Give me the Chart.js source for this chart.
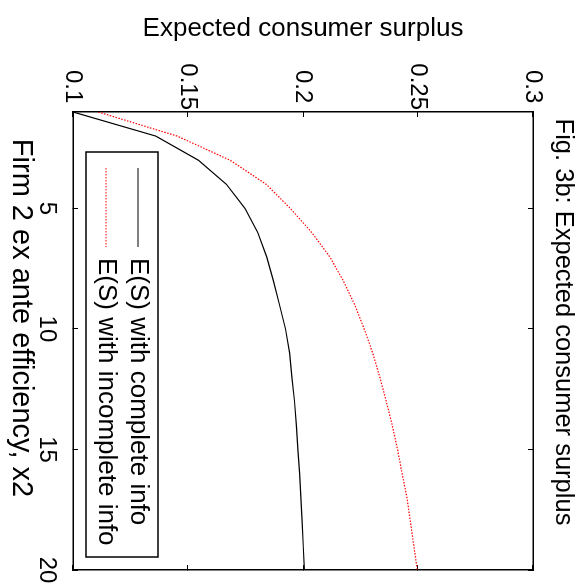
<!DOCTYPE html>
<html>
<head>
<meta charset="utf-8">
<script src="https://cdn.jsdelivr.net/npm/chart.js@4.4.0/dist/chart.umd.min.js"></script>
<style>
  html, body { margin: 0; padding: 0; background: #fff; overflow: hidden; }
  /* the figure is laid out upright, then turned a quarter clockwise onto the page */
  #wrap {
    position: absolute; left: 0; top: 0;
    width: 585px; height: 582px;
    transform-origin: 0 0;
    transform: translate(582px, 0) rotate(90deg);
  }
  canvas { display: block; }
</style>
</head>
<body>
<div id="wrap"><canvas id="surplus-chart" width="585" height="582"></canvas></div>
<script>
// firm 2 ex ante efficiency
const efficiency = [1, 2, 3, 4, 5, 6, 7, 8, 9, 10, 11, 12, 13, 14, 15, 16, 17, 18, 19, 20];
// expected consumer surplus, complete information
const surplusComplete = [0.100, 0.136, 0.1545, 0.1667, 0.1748, 0.1803, 0.1842, 0.1871, 0.1898, 0.1924,
                         0.1942, 0.1952, 0.1963, 0.1971, 0.1978, 0.1985, 0.1991, 0.1996, 0.2001, 0.2006];
// expected consumer surplus, incomplete information
const surplusIncomplete = [0.111, 0.1453, 0.1683, 0.184, 0.1945, 0.2038, 0.2116, 0.2175, 0.2225, 0.2266,
                           0.2303, 0.2334, 0.2362, 0.2388, 0.2411, 0.2431, 0.2452, 0.2467, 0.2482, 0.2497];

const xTickValues = [5, 10, 15, 20];
const yTickValues = [0.1, 0.15, 0.2, 0.25, 0.3];
const yTickLabels = ['0.1', '0.15', '0.2', '0.25', '0.3'];

const figTitle = 'Fig. 3b: Expected consumer surplus';
const xTitle = 'Firm 2 ex ante efficiency, x2';
const yTitle = 'Expected consumer surplus';

const FONT = "'Liberation Sans', Arial, Helvetica, sans-serif";

Chart.defaults.font.family = FONT;
Chart.defaults.font.size = 24;
Chart.defaults.color = '#000';

function setTicks(values) {
    return scale => { scale.ticks = values.map(v => ({ value: v })); };
}

// inward tick marks, matlab style
const innerGrid = { drawOnChartArea: false, drawTicks: true, tickLength: -5, color: '#000', lineWidth: 1 };
const boxBorder = { display: true, color: '#000', width: 1.5 };

// figure title and x label, centred a bit above the middle of the axes
const figureLabels = {
    id: 'figureLabels',
    afterDraw(chart) {
        const ctx = chart.ctx;
        ctx.save();
        ctx.fillStyle = '#000';
        ctx.textAlign = 'center';
        ctx.textBaseline = 'middle';
        ctx.font = '25.5px ' + FONT;
        ctx.fillText(figTitle, 322, 19);
        ctx.font = '29px ' + FONT;
        ctx.fillText(xTitle, 318, 561);
        ctx.restore();
    }
};

// legend with a frame, sitting in the lower right corner of the axes
const framedLegend = {
    id: 'framedLegend',
    afterDatasetsDraw(chart) {
        const ctx = chart.ctx;
        const box = { left: 152, top: 424, width: 405, height: 72 };
        ctx.save();
        ctx.fillStyle = '#fff';
        ctx.fillRect(box.left, box.top, box.width, box.height);
        ctx.strokeStyle = '#000';
        ctx.lineWidth = 1.5;
        ctx.strokeRect(box.left, box.top, box.width, box.height);
        chart.data.datasets.forEach((ds, i) => {
            const y = 444 + i * 32;
            ctx.beginPath();
            ctx.strokeStyle = ds.borderColor;
            ctx.lineWidth = ds.borderWidth;
            ctx.setLineDash(ds.borderDash || []);
            ctx.moveTo(168, y);
            ctx.lineTo(247, y);
            ctx.stroke();
            ctx.setLineDash([]);
            ctx.fillStyle = '#000';
            ctx.font = '26px ' + FONT;
            ctx.textBaseline = 'middle';
            ctx.textAlign = 'left';
            ctx.fillText(ds.label, 258, y);
        });
        ctx.restore();
    }
};

new Chart(document.getElementById('surplus-chart').getContext('2d'), {
    type: 'line',
    data: {
        labels: efficiency,
        datasets: [{
            label: 'E(S) with complete info',
            data: efficiency.map((x, i) => ({ x: x, y: surplusComplete[i] })),
            borderColor: '#000',
            borderWidth: 1.2,
            pointRadius: 0,
            tension: 0
        }, {
            label: 'E(S) with incomplete info',
            data: efficiency.map((x, i) => ({ x: x, y: surplusIncomplete[i] })),
            borderColor: '#ff0000',
            borderWidth: 1.2,
            borderDash: [1.5, 1.5],
            pointRadius: 0,
            tension: 0
        }]
    },
    options: {
        responsive: false,
        devicePixelRatio: 1,
        animation: false,
        layout: { padding: { top: 49, right: 15, bottom: 0, left: 0 } },
        plugins: {
            legend: { display: false },
            tooltip: { enabled: false },
            title: { display: false }
        },
        scales: {
            x: {
                type: 'linear', position: 'bottom', min: 1, max: 20,
                afterBuildTicks: setTicks(xTickValues),
                ticks: { padding: 17, maxRotation: 0, autoSkip: false },
                grid: innerGrid,
                border: boxBorder,
                afterFit(s) { s.height = 73; s.paddingLeft = 0; s.paddingRight = 0; }
            },
            x2: {
                type: 'linear', position: 'top', min: 1, max: 20,
                afterBuildTicks: setTicks(xTickValues),
                ticks: { display: false },
                grid: innerGrid,
                border: boxBorder,
                afterFit(s) { s.height = 0; s.paddingLeft = 0; s.paddingRight = 0; }
            },
            y: {
                type: 'linear', position: 'left', min: 0.1, max: 0.3,
                afterBuildTicks: setTicks(yTickValues),
                ticks: {
                    padding: 7, crossAlign: 'center', autoSkip: false,
                    callback: (v) => yTickLabels[yTickValues.indexOf(v)]
                },
                grid: innerGrid,
                border: boxBorder,
                title: { display: true, text: yTitle, font: { size: 26 }, padding: { top: 13, bottom: 0 } },
                afterFit(s) { s.width = 112; s.paddingTop = 0; s.paddingBottom = 0; }
            },
            y2: {
                type: 'linear', position: 'right', min: 0.1, max: 0.3,
                afterBuildTicks: setTicks(yTickValues),
                ticks: { display: false },
                grid: innerGrid,
                border: boxBorder,
                afterFit(s) { s.width = 0; s.paddingTop = 0; s.paddingBottom = 0; }
            }
        }
    },
    plugins: [framedLegend, figureLabels]
});
</script>
</body>
</html>
